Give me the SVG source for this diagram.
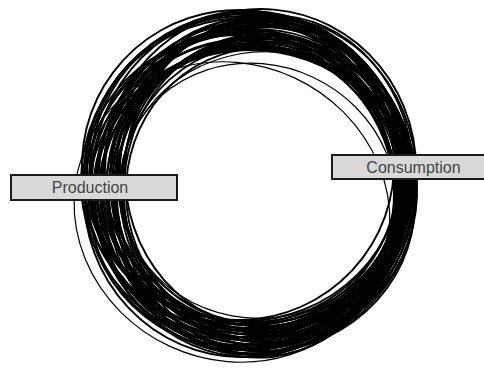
<svg xmlns="http://www.w3.org/2000/svg" width="484" height="371" viewBox="0 0 484 371">
<style>
.s{fill:none;stroke:#000;stroke-width:1.9}
.t{fill:none;stroke:#000;stroke-width:1.2}
.box{fill:#d9d9d9;stroke:#1a1a1a;stroke-width:2}
.lbl{font-family:"Liberation Sans",Arial,sans-serif;font-size:16px;fill:#444;text-anchor:middle}
</style>
<rect width="484" height="371" fill="#fff"/>
<g id="connectors">
<ellipse class="s" cx="238" cy="165" rx="156" ry="155" transform="rotate(-8 238 165)"/>
<ellipse class="s" cx="250" cy="177" rx="151" ry="154" transform="rotate(-3 250 177)"/>
<ellipse class="s" cx="262" cy="189" rx="146" ry="153" transform="rotate(2 262 189)"/>
<ellipse class="s" cx="251.5" cy="201" rx="163.5" ry="152" transform="rotate(7 251.5 201)"/>
<ellipse class="s" cx="251.5" cy="173" rx="146.5" ry="152" transform="rotate(-5 251.5 173)"/>
<ellipse class="s" cx="263.5" cy="185" rx="141.5" ry="151"/>
<ellipse class="s" cx="253" cy="197" rx="159" ry="150" transform="rotate(5 253 197)"/>
<ellipse class="s" cx="253" cy="188.5" rx="142" ry="169.5" transform="rotate(-7 253 188.5)"/>
<ellipse class="s" cx="242.5" cy="181" rx="159.5" ry="149" transform="rotate(-2 242.5 181)"/>
<ellipse class="s" cx="254.5" cy="193" rx="154.5" ry="148" transform="rotate(3 254.5 193)"/>
<ellipse class="s" cx="266.5" cy="184.5" rx="149.5" ry="167.5" transform="rotate(8 266.5 184.5)"/>
<ellipse class="s" cx="244" cy="177" rx="155" ry="147" transform="rotate(-4 244 177)"/>
<ellipse class="s" cx="256" cy="189" rx="150" ry="146" transform="rotate(1 256 189)"/>
<ellipse class="s" cx="268" cy="180.5" rx="145" ry="165.5" transform="rotate(6 268 180.5)"/>
<ellipse class="s" cx="245.5" cy="192.5" rx="150.5" ry="164.5" transform="rotate(-6 245.5 192.5)"/>
<ellipse class="s" cx="257.5" cy="185" rx="145.5" ry="144" transform="rotate(-1 257.5 185)"/>
<ellipse class="s" cx="247" cy="176.5" rx="163" ry="163.5" transform="rotate(4 247 176.5)"/>
<ellipse class="s" cx="259" cy="188.5" rx="158" ry="162.5" transform="rotate(-8 259 188.5)"/>
<ellipse class="s" cx="259" cy="181" rx="141" ry="142" transform="rotate(-3 259 181)"/>
<ellipse class="s" cx="248.5" cy="172.5" rx="158.5" ry="161.5" transform="rotate(2 248.5 172.5)"/>
<ellipse class="s" cx="260.5" cy="184.5" rx="153.5" ry="160.5" transform="rotate(7 260.5 184.5)"/>
<ellipse class="s" cx="260.5" cy="196.5" rx="136.5" ry="159.5" transform="rotate(-5 260.5 196.5)"/>
<ellipse class="s" cx="250" cy="189" rx="154" ry="139"/>
<ellipse class="s" cx="262" cy="180.5" rx="149" ry="158.5" transform="rotate(5 262 180.5)"/>
<ellipse class="s" cx="239.5" cy="192.5" rx="154.5" ry="157.5" transform="rotate(-7 239.5 192.5)"/>
<ellipse class="s" cx="251.5" cy="185" rx="149.5" ry="137" transform="rotate(-2 251.5 185)"/>
<ellipse class="s" cx="263.5" cy="176.5" rx="144.5" ry="156.5" transform="rotate(3 263.5 176.5)"/>
<ellipse class="s" cx="253" cy="188.5" rx="162" ry="155.5" transform="rotate(8 253 188.5)"/>
<ellipse class="s" cx="253" cy="200.5" rx="145" ry="154.5" transform="rotate(-4 253 200.5)"/>
<ellipse class="s" cx="265" cy="172.5" rx="140" ry="154.5" transform="rotate(1 265 172.5)"/>
<ellipse class="s" cx="254.5" cy="184.5" rx="157.5" ry="153.5" transform="rotate(6 254.5 184.5)"/>
<ellipse class="s" cx="254.5" cy="196.5" rx="140.5" ry="152.5" transform="rotate(-6 254.5 196.5)"/>
<ellipse class="s" cx="244" cy="168.5" rx="158" ry="152.5" transform="rotate(-1 244 168.5)"/>
<ellipse class="s" cx="256" cy="180.5" rx="153" ry="151.5" transform="rotate(4 256 180.5)"/>
<ellipse class="s" cx="268" cy="192.5" rx="148" ry="150.5" transform="rotate(-8 268 192.5)"/>
<ellipse class="s" cx="245.5" cy="184" rx="153.5" ry="170" transform="rotate(-3 245.5 184)"/>
<ellipse class="s" cx="245.5" cy="174.5" rx="158.5" ry="162.5" transform="rotate(3 245.5 174.5)"/>
<ellipse class="s" cx="261.5" cy="176.5" rx="151.5" ry="149.5" transform="rotate(-4 261.5 176.5)"/>
<ellipse class="s" cx="245" cy="194" rx="152" ry="154" transform="rotate(6 245 194)"/>
<ellipse class="s" cx="265.5" cy="179" rx="145.5" ry="164" transform="rotate(-7 265.5 179)"/>
<ellipse class="s" cx="242" cy="195" rx="158" ry="162" transform="rotate(1 242 195)"/>
<ellipse class="s" cx="260" cy="169.5" rx="156" ry="160.5" transform="rotate(5 260 169.5)"/>
<ellipse class="s" cx="252" cy="197.5" rx="154" ry="152.5" transform="rotate(-2 252 197.5)"/>
<ellipse class="s" cx="257" cy="179" rx="142" ry="159" transform="rotate(8 257 179)"/>
<ellipse class="s" cx="251.5" cy="181.5" rx="162.5" ry="143.5" transform="rotate(-5 251.5 181.5)"/>
<ellipse class="s" cx="255.5" cy="189.5" rx="146.5" ry="164.5" transform="rotate(2 255.5 189.5)"/>
<ellipse class="s" cx="245" cy="181.5" rx="164" ry="163.5" transform="rotate(-9 245 181.5)"/>
<ellipse class="s" cx="261" cy="190.5" rx="135" ry="142.5" transform="rotate(4 261 190.5)"/>
<ellipse class="t" cx="232" cy="212" rx="160" ry="148" transform="rotate(25 232 212)"/>
<ellipse class="t" cx="258" cy="195" rx="140" ry="130" transform="rotate(25 258 195)"/>
<ellipse class="t" cx="262" cy="185" rx="142" ry="133" transform="rotate(-10 262 185)"/>
</g>
<g id="production">
<rect class="box" x="11" y="175" width="166" height="25"/>
<text class="lbl" x="90" y="193">Production</text>
</g>
<g id="consumption">
<rect class="box" x="332" y="155" width="160" height="24"/>
<text class="lbl" x="413.5" y="173">Consumption</text>
</g>
</svg>
